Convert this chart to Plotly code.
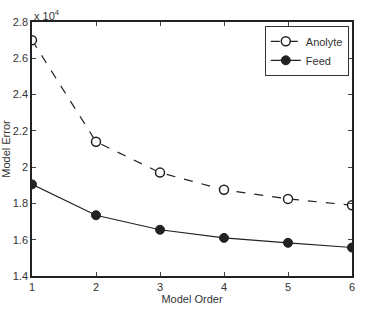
import plotly.graph_objects as go

orders = [1, 2, 3, 4, 5, 6]
anolyte = [27000, 21400, 19700, 18750, 18250, 17900]
feed = [19050, 17350, 16550, 16100, 15830, 15570]
ytick_vals = [14000, 16000, 18000, 20000, 22000, 24000, 26000, 28000]
ytick_text = ["1.4", "1.6", "1.8", "2", "2.2", "2.4", "2.6", "2.8"]

fig = go.Figure()
fig.add_trace(go.Scatter(x=orders, y=anolyte, name="Anolyte", mode="lines+markers",
                         line=dict(color="#222", width=1.2, dash="dash"),
                         marker=dict(symbol="circle", size=9, color="white",
                                     line=dict(color="#222", width=1.5))))
fig.add_trace(go.Scatter(x=orders, y=feed, name="Feed", mode="lines+markers",
                         line=dict(color="#222", width=1.2),
                         marker=dict(symbol="circle", size=9, color="#222",
                                     line=dict(color="#222", width=1))))

fig.update_layout(
    width=378, height=309,
    margin=dict(l=32, r=26, t=22, b=33),
    plot_bgcolor="white", paper_bgcolor="white",
    font=dict(family="Liberation Sans, Arial", size=11, color="#333"),
    showlegend=True,
    legend=dict(x=0.99, y=0.985, xanchor="right", yanchor="top",
                bgcolor="white", bordercolor="#333", borderwidth=1,
                font=dict(size=11), tracegroupgap=0, itemwidth=30),
    xaxis=dict(range=[1, 6], tickvals=orders, ticks="inside", ticklen=4,
               showline=True, linecolor="#222", linewidth=1.5, mirror="ticks",
               showgrid=False, zeroline=False, automargin=False,
               title=dict(text="Model Order", standoff=2, font=dict(size=11))),
    yaxis=dict(range=[14000, 28000], tickvals=ytick_vals, ticktext=ytick_text,
               ticks="inside", ticklen=4,
               showline=True, linecolor="#222", linewidth=1.5, mirror="ticks",
               showgrid=False, zeroline=False, automargin=False,
               title=dict(text="Model Error", standoff=0, font=dict(size=11))),
)
fig.add_annotation(xref="paper", yref="paper", x=0, y=1, xanchor="left", yanchor="bottom",
                   text="x 10<sup>4</sup>", showarrow=False, font=dict(size=11), yshift=-2)
fig.write_html("out.html")
